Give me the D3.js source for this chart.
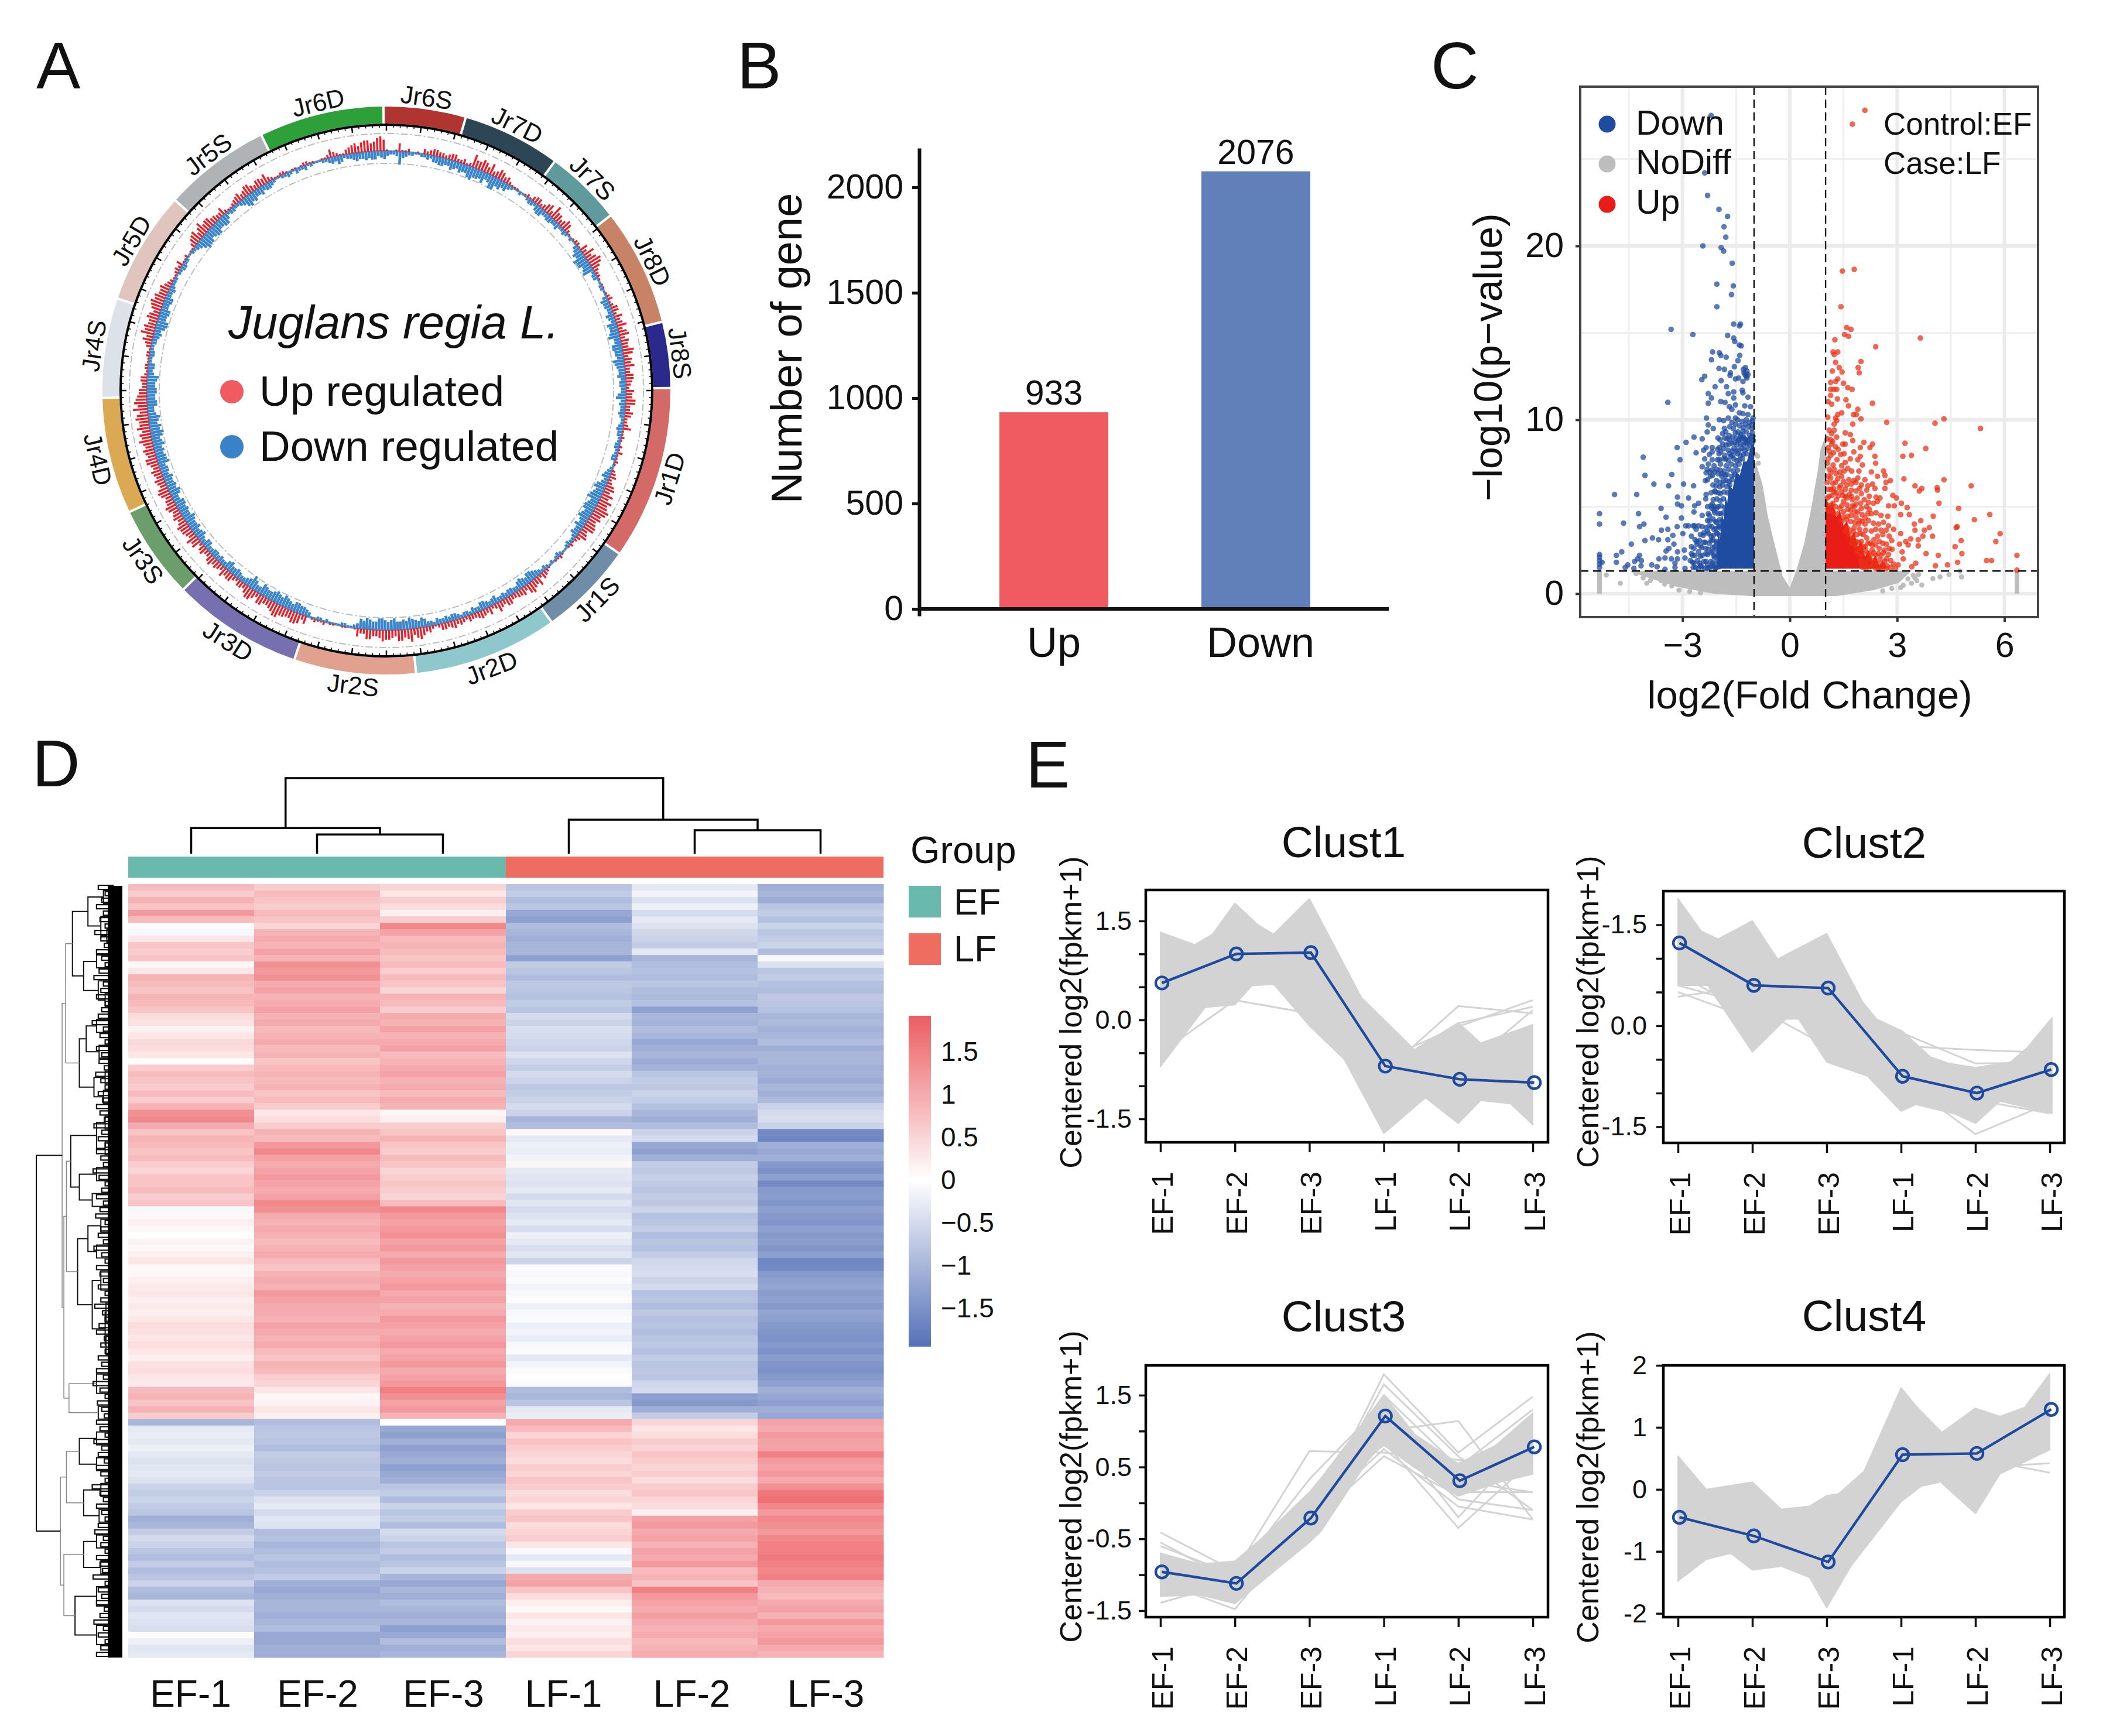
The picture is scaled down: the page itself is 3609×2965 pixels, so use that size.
<!DOCTYPE html>
<html><head><meta charset="utf-8">
<script src="https://cdn.jsdelivr.net/npm/d3@7/dist/d3.min.js"></script>
<style>
html,body{margin:0;padding:0;background:#fff}
svg{display:block}
text{font-family:"Liberation Sans",Arial,sans-serif;fill:#111}
</style></head><body><svg id="c" width="3609" height="2965" viewBox="0 0 3609 2965"></svg>
<script>
// ---------- A: circos ----------
const chromNames=["Jr6S","Jr7D","Jr7S","Jr8D","Jr8S","Jr1D","Jr1S","Jr2D","Jr2S","Jr3D","Jr3S","Jr4D","Jr4S","Jr5D","Jr5S","Jr6D"];
const chromEnds=[16.2,36.3,52,76,89.5,125,144.5,174,198.9,225.6,244.7,268.5,288.9,312,333.9,359.4];
const chromColors=["#b03531","#2c4655","#5f9a9c","#c88266","#2b2a8c","#d46a68","#6f8da6","#8fc8cc","#e2a18e","#7670b0","#6c9e6c","#dba853","#dce2e8","#dfc5bd","#b0b3b6","#2ea03a"];
const trackUp=[1,0,5,1,0,1,3,3,4,3, 3,4,2,1,8,5,6,7,4,5, 4,1,1,0,2,3,4,3,6,8, 5,4,5,1,1,2,5,7,6,7,
3,2,0,1,1,3,2,4,5,4, 3,6,5,4,6,5,6,3,5,3, 5,4,6,3,4,2,5,1,1,2, 3,1,1,2,4,3,6,7,8,7,
8,7,6,7,5,3,1,1,0,2, 1,0,2,4,6,5,6,5,4,3, 5,4,3,5,4,4,3,2,4,5, 3,4,1,4,5,6,8,5,7,5,
6,5,4,6,3,1,0,1,0,1, 2,1,1,5,6,7,5,6,8,5, 4,6,5,7,3,4,3,5,6,4, 4,5,3,4,6,7,5,6,5,6,
4,7,5,6,6,5,4,6,5,7, 6,5,8,7,8,6,7,9,8,6, 5,3,4,1,2,1,2,3,6,8, 7,5,6,6,8,7,5,4,2,1,
3,4,1,0,1,5,7,6,5,6, 4,3,2,1,3,5,4,6,3,5, 6,2,1,2,0,1,1,2,1,0, 1,5,2,1,4,6,6,7,6,9];
const trackUp2=[0,1,1,2,0,0,2,4,3,2, 4,2,3,2,5,7,4,3,6,3, 2,1,0,1,1,4,2,5,3,5, 3,6,2,0,2,1,3,4,8,5,
2,1,1,0,2,1,4,2,3,6, 5,3,4,7,3,4,3,5,4,2, 4,6,3,5,2,3,1,2,0,1, 1,2,0,3,2,5,4,5,6,9,
6,5,7,4,6,2,2,0,1,1, 0,1,3,2,4,7,3,4,3,5, 3,6,2,3,5,3,4,3,3,4, 4,2,2,3,7,4,6,7,4,6,
7,4,6,3,5,0,1,0,1,0, 1,2,0,3,7,5,6,8,6,4, 6,3,7,5,4,2,5,4,3,5, 6,3,5,2,5,4,6,7,4,5,
6,5,4,7,4,6,5,4,7,5, 7,6,6,5,6,8,5,6,7,5, 3,4,2,2,1,2,1,4,4,6, 5,7,4,7,6,5,6,3,1,2,
2,1,2,1,3,6,4,8,6,4, 3,5,1,2,4,3,6,4,5,4, 3,1,2,1,1,0,2,1,0,1, 2,3,1,3,5,4,7,5,8,7];
const trackDown=[3,2,8,3,2,1,2,2,4,5, 4,5,6,5,8,6,7,5,8,6, 5,2,1,1,2,3,4,5,3,4, 3,2,3,1,1,3,6,8,7,6,
2,3,1,2,1,5,4,3,4,6, 5,7,4,6,5,7,5,4,3,4, 3,6,4,3,3,2,4,3,2,3, 2,3,1,3,5,4,7,6,8,6,
7,6,5,6,4,3,2,2,1,3, 1,1,3,3,5,6,5,5,3,4, 4,3,4,4,5,3,2,3,3,4, 4,3,2,3,6,5,7,6,5,6,
6,7,5,7,6,2,1,2,1,1, 1,2,1,4,5,6,5,7,6,6, 5,7,4,8,4,3,5,4,5,3, 3,4,3,5,4,5,6,5,7,5,
5,6,4,7,6,5,4,5,7,6, 6,7,5,8,7,6,5,4,6,5, 6,5,7,3,4,2,3,2,3,5, 6,7,5,6,4,5,3,3,2,1,
2,3,2,1,2,4,8,7,6,7, 5,6,2,3,2,4,7,6,4,3, 4,2,1,2,2,3,2,1,1,1, 2,4,5,2,3,5,4,4,5,4];
const trackDown2=[2,3,4,2,1,2,3,4,5,4, 6,4,5,7,6,5,4,8,5,4, 3,1,2,1,3,2,5,3,4,3, 4,2,2,2,1,4,5,7,5,7,
3,1,2,1,3,4,3,5,3,5, 6,4,6,5,4,6,4,5,4,3, 5,3,3,4,2,3,3,2,3,2, 3,1,2,4,3,6,5,7,5,7,
5,7,4,4,5,2,3,1,2,2, 2,2,2,4,6,4,6,3,4,3, 3,5,3,5,3,4,3,2,4,3, 3,4,3,5,4,6,5,5,7,5,
7,5,6,5,3,1,2,1,1,2, 2,1,3,5,6,4,6,5,7,5, 6,4,6,5,3,4,4,6,3,4, 4,3,5,3,6,4,5,6,5,6,
6,4,6,5,5,6,5,4,6,5, 5,6,7,6,5,7,4,6,5,6, 5,6,4,4,2,3,2,3,4,4, 7,5,6,4,5,3,4,2,2,2,
3,2,1,2,3,6,7,5,7,5, 6,4,3,2,3,6,5,4,5,4, 3,1,2,3,1,2,3,2,1,2, 3,3,4,3,4,4,5,5,3,5];
// ---------- B ----------
const barCats=["Up","Down"];
const barVals=[933,2076];
const barTicks=[0,500,1000,1500,2000];
// ---------- C: volcano ----------
const grayX=[-4.45,-3.86,-3.17,-2.14,-1.1,-1,-1,-.9,-.76,-.62,-.41,-.2,0,.2,.41,.62,.79,.86,1,1,1.31,2.34,3.03,3.24,3.35];
const grayTop=[1.3,1.3,1.3,1.3,1.3,1.3,7.7,7.2,6.25,4.5,2.7,1,.35,1.45,2.95,5.15,7.2,8.3,9.1,1.3,1.3,1.3,1.3,1.3,1.3];
const grayBottom=[1.25,.85,.4,0,-.14,-.14,-.14,-.14,-.14,-.14,-.14,-.14,-.14,-.14,-.14,-.14,-.14,-.14,-.14,-.14,-.14,.2,.6,1,1.2];
const graySparse=[[-5.13,1.07],[-4.74,.6],[-4.3,1.15],[-4.1,.9],[-4,.6],[-3.75,1],[-3.6,.75],[-3.5,.55],[-3.3,.45],[-3.9,.75],[-3.1,.2],[-2.8,.12],[-2.5,.05],[2.6,.15],[2.85,.3],[3.1,.35],[3.45,1.05],[3.55,.75],[3.69,.5],[3.4,.6],[3.17,.48],[3.3,.85],[4,.87],[4.2,.96],[4.45,1.1],[4.76,1.3],[4.8,.96],[3.6,1.1],[3.5,.9],[-.95,8],[-.9,7.9],[-.88,7.5]];
const grayStrips=[-5.32,6.35];
const downSolidX=[-2.05,-2,-1.95,-1.9,-1.85,-1.8,-1.75,-1.7,-1.6,-1.5,-1.4,-1.3,-1.2,-1.1,-1];
const downSolidTop=[2.6,3.4,3.1,4.6,4.2,5.6,5.2,6.3,6,7,6.8,7.6,7.6,8.4,8.7];
const upSolidX=[1,1.1,1.2,1.3,1.4,1.5,1.6,1.7,1.8,1.9,2,2.1,2.2,2.3,2.4,2.5,2.6,2.7];
const upSolidTop=[5.6,5,5.3,4.4,4.8,3.9,4.2,3.2,3.6,2.7,3,2.1,2.5,1.9,2.2,1.6,1.9,1.5];
const downPts=[[-2.2,27.5],[-2.38,24.2],[-2.3,22.9],[-1.98,22.1],[-1.74,21.7],[-1.84,21.1],[-1.79,20.5],[-2.43,20],[-1.92,19.9],[-1.85,19.7],[-1.61,19],[-2.04,17.8],[-1.58,17.7],[-1.63,17.2],[-2.04,16.5],[-3.32,15.2],[-1.57,15.5],[-1.41,15.4],[-1.38,15.5],[-2.71,14.9],[-1.74,14.85],[-1.57,14.7],[-1.54,14.5],[-1.41,14.3],[-1.36,14.25],[-2.16,13.9],[-1.97,13.85],[-1.93,13.7],[-1.78,13.6],[-2.19,13.45],[-1.4,13.7],[-1.45,13.4],[-1.98,12.95],[-1.83,12.9],[-1.55,13.05],[-1.3,12.9],[-1.24,13],[-1.2,12.8],[-1.25,12.6],[-1.17,12.6],[-1.2,12.4],[-1.28,12.7],[-1.22,12.5],[-1.66,12.7],[-1.67,12.55],[-2.38,12.5],[-2.46,12.3],[-1.92,12.25],[-1.52,12.35],[-1.43,12.4],[-1.31,12.2],[-2.09,11.9],[-1.77,11.9],[-1.33,11.7],[-2.28,11.5],[-1.72,11.5],[-1.57,11.6],[-1.31,11.55],[-2.19,11.25],[-1.57,11.25],[-1.17,11.3],[-3.41,11],[-2.28,10.95],[-1.93,11.05],[-1.81,11],[-1.69,10.75],[-1.52,10.85],[-1.26,10.8],[-1.1,10.75],[-1.62,10.6],[-2.33,10.1],[-1.97,10],[-1.72,10.1],[-1.52,10.1],[-1.41,10.4],[-1.31,10.35],[-1.17,10.3],[-1.03,10.1],[-2.28,9.7],[-2.14,9.5],[-1.83,9.5],[-1.52,9.75],[-1.24,9.75],[-1.07,9.7],[-2.31,9.3],[-1.79,9.3],[-1.45,9.3],[-1.31,9.35],[-1.03,9.05],[-1.6,9],[-1.38,9.05],[-1.24,8.85],[-2.68,9],[-2.45,8.9],[-2.9,8.7],[-2.01,8.95],[-3.15,8.4],[-4.1,7.85],[-3.07,7.7],[-2.62,8.1],[-2.41,8.25],[-2.34,8.4],[-2.17,8.4],[-1.97,8.4],[-1.93,8.15],[-2.17,8.15],[-2.38,7.75],[-2.17,7.7],[-1.97,7.7],[-1.79,7.75],[-1.65,7.9],[-1.7,8.6],[-1.55,8.7],[-1.45,8.8],[-1.35,8.9],[-1.25,8.7],[-1.15,8.85],[-1.6,8.2],[-1.5,8.2],[-1.75,8.9],[-1.3,9],[-2.45,7.3],[-2.31,7.15],[-2.24,7],[-2.34,6.95],[-2.16,6.8],[-2.1,7],[-2.05,6.5],[-2,6.9],[-1.95,6.4],[-2.15,6.25],[-2.1,5.9],[-2,5.8],[-1.95,7.1],[-1.9,6.9],[-1.85,6.5],[-1.8,6.8],[-4.05,6.8],[-3.3,6.85],[-3.8,6.3],[-3.39,6.2],[-2.97,6.3],[-2.69,6.2],[-4.28,5.7],[-3.14,5.55],[-2.83,5.5],[-2.34,5.7],[-2.35,5.45],[-3.6,4.9],[-3.14,5.15],[-3.03,5.05],[-2.66,5.05],[-2.55,5.2],[-2.17,5.15],[-2.1,5],[-4.23,4.6],[-3.46,4.4],[-3.03,4.35],[-2.68,4.7],[-2.45,4.5],[-4.08,4],[-4.2,3.85],[-3.15,3.85],[-3.59,3.65],[-3.41,3.7],[-2.91,3.9],[-2.83,3.9],[-2.66,3.9],[-2.99,3.45],[-3.27,3.35],[-3.41,3.1],[-3.84,3.2],[-3.67,3.1],[-4.05,3.05],[-4.43,2.85],[-3.24,2.85],[-3.38,2.6],[-3.46,2.45],[-3.14,2.4],[-2.95,2.5],[-3.66,2],[-3.49,2.05],[-4.26,2],[-4.34,1.85],[-3.31,2],[-3.14,2],[-2.93,2.05],[-3.21,1.75],[-3.86,1.65],[-3.71,1.55],[-4.16,1.6],[-4.36,1.45],[-3.49,1.4],[-3.21,1.5],[-2.93,1.45],[-4.53,1.65],[-2.7,3.9],[-2.62,3.7],[-2.55,3.9],[-2.45,3.85],[-2.4,3.5],[-2.3,3.6],[-2.2,3.3],[-2.75,3.3],[-2.65,3.1],[-2.6,2.85],[-2.75,2.7],[-2.5,2.75],[-2.4,2.95],[-2.35,2.6],[-2.25,2.9],[-2.15,3.1],[-2.1,2.7],[-2.75,2.3],[-2.65,2.2],[-2.55,2.4],[-2.45,2.2],[-2.35,2.3],[-2.2,2.35],[-2.1,2.1],[-2.78,1.9],[-2.68,1.75],[-2.58,1.9],[-2.5,1.6],[-2.4,1.85],[-2.3,1.65],[-2.2,1.85],[-2.12,1.6],[-2.7,1.5],[-2.55,1.45],[-2.38,1.45],[-2.25,1.5],[-2.08,1.45],[-2.05,4.9],[-2,4.6],[-2.12,4.8],[-2.18,4.9],[-2.3,4.2],[-2.25,4.5],[-2.15,4.3],[-2.05,4.1],[-1.98,3.9],[-2.15,2.4],[-2.05,2.9],[-2.05,3.5],[-2.12,3.7],[-2.25,3.9],[-5.32,4.6],[-5.32,4],[-5.32,1.5],[-5.32,1.7],[-5.32,1.9],[-5.32,2.1],[-5.32,2.25],[-5.25,1.8],[-4.65,4.05],[-4.9,5.7],[-4.85,2.2],[-4.85,1.8],[-4.7,2.4],[-4.6,1.5],[-4.2,2.2],[-4.15,1.9]];
const downDense=[[-1.85,9.95],[-1.62,9.85],[-1.46,10],[-1.34,9.9],[-1.22,10],[-1.12,9.85],[-1.04,9.95],[-1.68,9.6],[-1.58,9.5],[-1.4,9.65],[-1.3,9.55],[-1.16,9.6],[-1.06,9.5],[-1.88,9.2],[-1.7,9.1],[-1.52,9.25],[-1.37,9.15],[-1.22,9.3],[-1.12,9.1],[-1.05,9.25],[-1.95,8.85],[-1.82,8.95],[-1.68,8.85],[-1.5,8.95],[-1.42,8.85],[-1.28,8.95],[-1.18,8.8],[-1.1,8.95],[-1.02,8.8],[-1.88,8.6],[-1.78,8.55],[-1.62,8.65],[-1.48,8.55],[-1.38,8.6],[-1.3,8.55],[-1.2,8.65],[-1.12,8.55],[-1.06,8.65],[-2.02,8.3],[-1.85,8.35],[-1.72,8.25],[-1.56,8.35],[-1.42,8.25],[-1.34,8.35],[-1.26,8.25],[-1.18,8.35],[-2.25,8],[-1.98,8.05],[-1.82,7.95],[-1.68,8.05],[-1.6,7.95],[-1.46,8.05],[-1.38,7.95],[-1.3,8],[-1.22,8.05],[-2.02,7.7],[-1.86,7.75],[-1.72,7.65],[-1.56,7.75],[-1.48,7.65],[-1.4,7.7],[-1.32,7.75],[-2.28,7.45],[-2.12,7.35],[-1.94,7.45],[-1.78,7.35],[-1.64,7.45],[-1.52,7.35],[-1.42,7.45],[-2.18,7.1],[-2.04,7.15],[-1.84,7.05],[-1.7,7.15],[-1.58,7.05],[-1.46,7.1],[-2.22,6.75],[-1.9,6.75],[-1.76,6.85],[-1.62,6.75],[-1.54,6.85],[-2.36,6.5],[-2.3,6.55],[-1.78,6.5],[-1.7,6.45],[-1.62,6.55],[-2.06,6.2],[-1.96,6.15],[-1.88,6.25],[-1.76,6.15],[-1.68,6.25],[-2.2,5.8],[-2.08,5.85],[-1.94,5.75],[-1.84,5.85],[-1.74,5.8],[-2.14,5.4],[-2.04,5.45],[-1.95,5.35],[-1.86,5.45],[-2.3,5],[-2.2,5.05],[-2,5],[-1.92,5.05],[-1.82,4.95],[-2.28,4.6],[-2.1,4.65],[-1.94,4.6],[-1.86,4.65],[-2.24,4.2],[-2.08,4.15],[-1.96,4.25],[-1.9,4.15],[-2.34,3.8],[-2.18,3.85],[-2.06,3.75],[-1.98,3.85],[-1.92,3.75],[-2.5,3.4],[-2.42,3.35],[-2.28,3.45],[-2.14,3.35],[-2.02,3.45],[-1.96,3.35],[-2.6,3],[-2.52,3.05],[-2.36,2.95],[-2.2,3.05],[-2.06,3],[-2.68,2.6],[-2.46,2.65],[-2.28,2.55],[-2.16,2.65],[-2.04,2.55],[-2.72,2.2],[-2.5,2.15],[-2.3,2.25],[-2.12,2.15],[-2.02,2.25],[-2.72,1.8],[-2.52,1.75],[-2.34,1.85],[-2.16,1.75],[-2.04,1.85],[-2.64,1.5],[-2.46,1.55],[-2.3,1.45],[-2.18,1.55],[-2.06,1.5],[-1.98,1.55]];
const upPts=[[2.1,27.8],[1.75,27],[1.8,18.65],[1.47,18.55],[1.43,16.5],[1.59,15.3],[1.71,15.2],[1.53,14.9],[1.64,14.8],[3.65,14.7],[1.26,14.6],[2.4,14.2],[1.21,13.9],[1.34,13.9],[1.24,13.75],[1.99,13.35],[1.28,13.3],[1.91,13],[1.38,13],[1.19,12.8],[1.46,12.75],[1.94,12.7],[1.34,12.35],[1.14,12.15],[1.28,12.2],[1.5,12.1],[1.62,11.85],[1.74,11.75],[1.14,11.75],[1.23,11.75],[1.31,11.75],[1.14,11.4],[1.33,11.2],[1.57,11.15],[1.07,11.05],[1.17,10.9],[1.64,10.8],[2.31,10.95],[1.9,10.6],[1.45,10.4],[1.34,10.3],[1.28,10.1],[1.78,10.3],[1.86,10.3],[1.99,10.05],[1.06,10.15],[1.31,9.95],[1.24,9.75],[1.76,9.75],[2.71,9.85],[4.06,9.8],[4.31,10.05],[5.33,9.5],[1.1,9.4],[1.24,9.4],[1.17,9.2],[1.55,9.25],[1.69,9.15],[1.14,8.85],[1.31,9],[1.76,8.8],[1.48,8.6],[1.55,8.6],[2.07,8.7],[2.31,8.6],[3.22,8.65],[1.17,8.6],[1.28,8.45],[1.07,8.4],[2.24,8.4],[1.97,8.4],[3.8,8.35],[1.52,8.05],[1.79,8.15],[1.14,7.95],[1.07,7.75],[2.38,7.9],[3.16,7.9],[3.4,7.95],[1.97,7.9],[1.69,7.75],[1.9,7.7],[1.55,7.55],[1.21,7.4],[2.03,7.4],[2.4,7.5],[1.45,7.35],[1.1,7.15],[1.24,7.15],[1.52,7.05],[2.28,7],[1.93,7.05],[2.62,7.05],[1.07,6.75],[1.14,6.65],[1.34,6.6],[1.45,6.75],[1.79,6.5],[1.9,6.65],[2.1,6.55],[2.45,6.75],[2.66,6.8],[3.19,6.6],[4.31,6.55],[2.69,6.4],[2.81,6.5],[1.72,6.3],[1.59,6.25],[2.31,6.3],[5.07,6.2],[3.5,6.2],[3.69,6.05],[3.62,5.9],[4.12,6.1],[4.13,5.95],[2.66,6.05],[2.38,6.05],[1.38,6.1],[1.24,5.85],[1.45,5.85],[2,5.75],[1.66,5.7],[2.88,5.65],[2.98,5.5],[2.41,5.55],[2.52,5.5],[2.34,5.2],[2.45,5.3],[3.12,5.2],[2.76,5.05],[2.92,5.05],[3.28,4.95],[4.17,5.2],[4.72,4.9],[5.59,4.55],[5.16,4.25],[4.01,4.45],[3.34,4.55],[3.1,4.55],[2.74,4.45],[2.41,4.65],[2.28,4.6],[2.1,4.35],[3.66,4.2],[3.48,4],[3.5,3.65],[3.9,3.8],[3.76,3.65],[4.65,3.8],[4.68,3.85],[5.88,3.45],[5.76,3],[4.79,3.05],[4.62,2.7],[4.81,2.3],[3.99,3.3],[3.72,3.3],[3.59,3.1],[3.38,3.15],[3.24,3],[3.1,3.45],[3.59,2.75],[3.31,2.8],[3.07,2.85],[3.81,2.3],[4.15,2.2],[5.5,1.9],[5.64,1.9],[4.69,1.8],[4.41,1.65],[4.07,1.6],[3.52,1.75],[3.41,1.55],[3.17,2],[3.03,1.65],[3.14,2.4],[2.86,2.55],[2.76,2.25],[2.69,3.65],[2.55,3.65],[2.9,3.7],[2.62,4.1],[2.34,4.05],[2.76,3.9],[1.95,3.7],[2.05,3.4],[2.15,3.2],[2,3],[2.1,2.7],[2.25,2.9],[2.35,3.1],[2.45,3.3],[2.4,2.8],[2.5,2.6],[2.6,2.9],[2.65,2.5],[2.3,2.5],[2.2,2.3],[2.05,2.3],[2.4,2.2],[2.55,2.2],[2.7,2],[2.3,1.9],[2.15,1.9],[2,1.8],[2.45,1.7],[2.6,1.7],[2.72,1.6],[2.25,1.55],[2.05,1.5],[2.4,1.45],[2.55,1.45],[2.7,1.45],[2.1,4],[1.95,4.2],[1.85,4.4],[1.7,4.8],[1.6,5.1],[1.5,5.3],[1.4,4.9],[1.3,5.4],[1.2,5.2],[1.1,5.6],[1.8,5],[1.9,4.7],[2,4.9],[1.75,5.4],[1.15,6],[1.3,5.8],[1.55,5.6],[1.85,5.9],[1.65,3.4],[1.75,3.2],[1.85,3],[1.95,2.6],[1.6,3.8],[1.5,4.4],[1.8,3.8],[6.35,2.2],[6.35,1.35]];
const upDense=[[1.05,8.9],[1.2,8.75],[1.1,8.2],[1.22,8.1],[1.35,8.3],[1.42,8],[1.05,7.5],[1.32,7.7],[1.15,6.95],[1.3,6.9],[1.4,7],[1.62,7.2],[1.73,7.05],[1.05,6.4],[1.2,6.35],[1.28,6.4],[1.5,6.45],[1.65,6.55],[1.85,6.4],[2,6.25],[2.18,6.2],[1.08,6],[1.22,6.05],[1.42,6.2],[1.55,6],[1.72,5.95],[1.95,6.05],[2.15,5.95],[2.22,5.6],[1.05,5.5],[1.18,5.65],[1.35,5.6],[1.48,5.65],[1.6,5.5],[1.72,5.6],[1.88,5.5],[2.08,5.4],[2.2,5.25],[1.05,5.1],[1.15,5.05],[1.28,5],[1.45,5.05],[1.62,4.85],[1.75,5.05],[1.85,5.15],[1.98,5.2],[2.14,5],[2.22,4.85],[1.08,4.75],[1.22,4.7],[1.35,4.6],[1.5,4.7],[1.62,4.45],[1.72,4.5],[1.82,4.7],[2.02,4.55],[2.18,4.6],[2.55,4.5],[1.45,4.15],[1.58,4.25],[1.7,4.15],[1.82,4.1],[1.92,4],[2.02,4.15],[2.2,4.2],[2.48,4],[1.55,3.6],[1.68,3.65],[1.78,3.55],[1.88,3.4],[1.98,3.45],[2.12,3.65],[2.28,3.6],[2.4,3.7],[2.6,3.4],[2.78,3.3],[1.72,2.9],[1.82,2.75],[1.92,2.95],[2.05,2.7],[2.18,2.9],[2.3,2.8],[2.5,3],[2.7,2.85],[2.85,3.05],[1.88,2.4],[1.98,2.2],[2.12,2.5],[2.25,2.2],[2.35,2.35],[2.48,2.3],[2.62,2.35],[2.78,2.6],[1.98,1.95],[2.1,1.75],[2.22,2],[2.38,1.8],[2.52,1.95],[2.65,1.85],[2.82,1.9],[2.9,1.7],[2.02,1.6],[2.15,1.5],[2.3,1.65],[2.48,1.5],[2.62,1.55],[2.82,1.5],[2.95,1.45]];
const legendNames=["Down","NoDiff","Up"];
const legendColors=["#1f4ba0","#bdbdbd","#ea1c18"];
// ---------- D: heatmap ----------
const samples=["EF-1","EF-2","EF-3","LF-1","LF-2","LF-3"];
const heatEF1=[.8,.6,.9,.7,1.2,.8,.05,-.1,.3,.7, .6,.7,.1,.3,.9,.8,.7,.9,.8,.7, .4,.35,.15,.3,.45,.4,.3,.05,.6,.8, .7,.6,.8,.6,.9,1.3,1.4,1,.7,.9, .8,.7,.8,.6,.5,.7,.7,.8,.6,.7, -.1,.1,.2,.1,0,.15,.1,.2,.3,.1, .1,.2,.25,.3,.2,.25,.2,.3,.4,.35, .3,.4,.3,.2,.35,.4,.3,.25,.8,.9, .7,.9,.6,-1,-.3,-.25,-.3,-.2,-.3,-.4, -.35,-.3,-.4,-.6,-.7,-.6,-.7,-.8,-1.1,-1, -.7,-.5,-.6,-.8,-.9,-.7,-.9,-.8,-.6,-.9, -1,-.4,-.5,-.35,-.4,-.45,.05,-.2,-.35,-.3];
const heatEF2=[.6,.8,.7,.6,.8,.7,.5,.9,1,.9, 1.1,.9,1.3,1.2,1.3,1,1.1,.9,1,1.1, .9,1,.8,.9,1,.8,.9,.7,.8,.9, .8,.9,.7,.8,.6,.3,.4,.6,.9,.8, 1.2,1.4,1.1,1,1.1,1.2,1.1,1,1.1,1.4, 1.3,1,.9,1,.9,.8,.9,1,.8,.7, .9,1,.9,1.2,1.1,1,1,.9,1.1,1, .9,1,.8,.7,.9,.8,.6,.5,.3,.1, .15,.3,.2,-.9,-.8,-.75,-.8,-.9,-.7,-.75, -.8,-.7,-.8,-.8,-.6,-.4,-.3,-.5,-.35,-.4, -.9,-.85,-1,-.9,-.8,-.9,-.85,-.7,-1.1,-1.2, -1.1,-1,-1,-1.1,-1,-.9,-1.2,-1.2,-1.1,-1.1];
const heatEF3=[.5,.3,.6,.4,.2,.6,1.4,1.1,.8,.9, .8,.7,.8,.6,.8,.7,.5,.9,.8,.6, 1,.9,1.1,.9,1,1.1,.8,.9,1,1.1, .9,1,.8,1,.9,.1,.2,.6,.7,.9, .7,.6,.8,.7,.5,.6,.7,.6,.5,.8, 1.4,1.2,1.1,1.2,1.3,1.1,1.2,1,1.2,1.1, 1,1.1,1.2,1,1.1,.9,1,1.2,1.1,1, 1.1,1.2,1,1.1,1.2,1,1.1,1.2,1.5,1.3, 1.1,1.2,.9,0,-1.2,-1.3,-1.1,-1.3,-1.2,-1.1, -1.3,-1.2,-1.1,-.8,-.7,-.9,-.6,-.8,-.7,-.9, -.5,-.6,-.8,-.7,-.9,-.8,-.6,-1,-1.2,-1, -1.1,-.9,-1,-1.1,-1,-1.3,-1.2,-.9,-1.1,-1];
const heatLF1=[-.8,-.7,-.9,-.8,-1.2,-1.3,-.9,-1,-1.1,-1, -1,-1.3,-.7,-.8,-.9,-.75,-.8,-.85,-.7,-.8, -.5,-.6,-.45,-.5,-.55,-.6,-.4,-.55,-.7,-.5, -.6,-.75,-.7,-.6,-.5,-.6,-1,-.9,.1,-.3, -.2,-.25,-.15,.1,-.3,-.35,-.4,-.3,-.5,-.35, -.5,-.4,-.3,-.45,-.2,-.3,-.45,-.35,-.6,-.05, -.1,-.05,-.15,-.1,.05,-.2,-.1,-.05,-.2,-.15, -.25,-.1,-.05,-.3,-.15,-.05,0,-.05,-.9,-1, -.8,-.3,-.25,1,.8,.5,.7,.6,.5,.4, .6,.5,.7,.6,.4,.5,.3,.6,.7,.4, .5,.6,.3,-.1,-.3,-.1,-.4,1,1.1,.7, .4,.2,.1,.3,.15,.25,.2,.4,.3,.5];
const heatLF2=[-.3,-.15,-.4,-.2,-.5,-.3,-.4,-.55,-.6,-.7, -.3,-1,-.9,-.85,-.9,-.8,-.9,-.95,-.85,-1.3, -1,-1.05,-.9,-1,-1.2,-1.1,-1,-1.15,-1.05,-.8, -.7,-.75,-.6,-.7,-.85,-1,-1.1,-.9,-.6,-.5, -1.2,-1.3,-1.1,-.7,-.75,-.65,-.7,-.8,-.7,-.75, -.6,-.85,-.8,-.7,-.9,-.8,-.85,-.7,-.55,-.5, -.45,-.6,-.5,-.85,-.8,-.9,-.75,-.85,-.8,-.9, -.8,-.75,-.85,-.7,-.8,-.75,-.8,-.55,-.5,-1.3, -1.4,-1.1,-.7,.5,.3,.4,.6,.5,.7,.6, .5,.6,.4,.6,.7,.5,.4,.2,1.1,1.2, 1,1.1,.9,1.1,1,1.2,.8,.9,.7,1.5, 1.2,1.1,1,1.15,1,.9,1,.8,.9,1];
const heatLF3=[-1.1,-1,-1.15,-.8,-.7,-.85,-.6,-.8,-.7,-.6, -.9,-.1,-.4,-.8,-.7,-.85,-.9,-.75,-.8,-.85, -1,-.95,-1.05,-1,-.9,-1.1,-1,-1,-1.1,-1.05, -1.15,-1,-1.1,-.95,-.6,-.5,-.45,-.6,-1.6,-1.65, -1.1,-1.2,-1.1,-1.4,-1.5,-1.3,-1.6,-1.4,-1.35,-1.45, -1.3,-1.4,-1.45,-1.3,-1.4,-1.35,-1.45,-1.3,-1.65,-1.6, -1.4,-1.3,-1.25,-1.35,-1.3,-1.4,-1.25,-1.3,-1.4,-1.45, -1.5,-1.4,-1.5,-1.35,-1.45,-1.5,-1.4,-1.3,-1.1,-1.2, -1.3,-1.1,-1.2,1.1,1,1.2,1.1,1.1,1.5,1.2, 1.1,1.2,1,1.3,1.6,1.7,1.4,1.2,1.4,1.3, 1.2,1.4,1.5,1.5,1.6,1.5,1.4,1.5,1,.9, .8,1,1.1,.9,1.2,1,1.1,1.2,1,.9];
const colTree=[1,[.34,0,[.254,1,2]],[.45,3,[.31,4,5]]];
const treeA=[.66,[.58,[.4,[.22,0,2],[.25,4,[.18,6,8]]],[.45,[.3,10,12],[.28,14,[.2,16,18]]]],[.5,[.42,[.3,20,22],[.27,24,26]],[.33,[.2,28,30],[.22,31,33]]]];
const treeB=[.65,[.6,[.3,[.2,35,37],[.2,39,41]],[.5,[.3,43,45],[.35,47,49]]],[.52,[.4,[.25,51,53],[.3,55,57]],[.35,[.25,59,62],[.2,[.19,64,67],[.19,69,72]]]]];
const treeC=[.62,[.3,75,78],[.28,80,82]];
const treeD=[.72,[.65,[.5,[.3,84,86],[.3,88,90]],[.45,[.25,92,94],[.27,96,98]]],[.68,[.45,[.3,100,102],[.25,104,106]],[.55,[.3,108,111],[.3,114,117]]]];
const rowTree=[1,[.7,treeA,[.68,treeB,treeC]],treeD];
const leafHeights=[.28,.2,.24,.3,.22,.26,.2,.32,.25,.21,.3,.24,.2,.27,.33,.22,.25,.3,.2,.24,.28,.35,.22,.26,.2,.3,.24,.27,.21,.31,.25,.2,.28,.23,.3,.26,.21,.33,.24,.28,.2,.3,.25,.22,.34,.27,.2,.24,.3,.22,.26,.31,.2,.25,.28,.22,.33,.24,.2,.3,.26,.22,.28,.2,.25,.32,.23,.2,.27,.3,.21,.25,.2,.28,.24,.3,.22,.34,.26,.2,.29,.24,.21,.3,.26,.2,.33,.24,.28,.21,.3,.25,.2,.35,.26,.22,.3,.24,.2,.28,.32,.22,.25,.2,.3,.26,.23,.34,.2,.28,.24,.3,.21,.26,.33,.22,.28,.2,.25,.3];
const groupNames=["EF","LF"];
const groupColors=["#69b9ac","#ee6c60"];
const heatTicks=[1.5,1,.5,0,-.5,-1,-1.5];
const heatTickText=["1.5","1","0.5","0","\u22120.5","\u22121","\u22121.5"];
// ---------- E: clusters ----------
const mean1=[.56,1,1.02,-.7,-.9,-.95];
const upper1=[[0,1.33],[.46,1.14],[.7,1.3],[1,1.77],[1.3,1.45],[1.52,1.3],[2,1.84],[2.7,.34],[3.41,-.45],[4,-.04],[4.3,-.35],[5,-.07]];
const lower1=[[0,-.71],[.6,.19],[1,.23],[1.23,.52],[1.52,.54],[2,-.09],[2.47,-.6],[3,-1.72],[3.56,-1.18],[4,-1.57],[4.3,-1.22],[4.7,-1.27],[5,-1.59]];
const extra1=[[.4,.6,.7,-.8,.21,.1],[.5,.7,.6,-.6,-.1,.3],[.3,.9,.8,-.9,-.05,.2],[-.5,.3,.1,-1.2,-.8,.15]];
const mean2=[1.23,.6,.56,-.75,-1,-.65];
const upper2=[[0,1.89],[.31,1.41],[.54,1.29],[1,1.56],[1.34,.99],[2,1.37],[2.48,.36],[2.67,.1],[3.02,-.08],[3.39,-.46],[3.65,-.56],[4,-.62],[4.47,-.54],[4.7,-.32],[5.03,.12]];
const lower2=[[0,.6],[.4,.6],[1,-.39],[1.45,.1],[1.62,.1],[2,-.54],[2.55,-.75],[3,-1.27],[3.2,-1.17],[3.72,-1.31],[4,-1.45],[4.33,-1.12],[5.03,-1.3]];
const extra2=[[.43,.6,.5,-.3,-.36,-.4],[.5,.1,.3,-.1,-.56,-.55],[.75,.2,.1,-.8,-1.61,-1.15],[.6,.3,-.3,-.9,-1.1,-1.3]];
const mean3=[-.96,-1.12,-.21,1.21,.31,.78];
const upper3=[[0,-.7],[.53,-.85],[1,-.81],[1.34,-.51],[2,.15],[2.16,.35],[3,1.5],[3.42,.95],[4,.55],[4.5,.8],[5,1.25]];
const lower3=[[0,-1.3],[.53,-1.28],[1,-1.4],[2,-.55],[2.16,-.39],[2.83,.66],[3,.8],[3.4,.5],[4,.1],[4.4,.25],[5,.4]];
const extra3=[[-.41,-.95,.72,.7,.6,.5],[-.6,-1,.33,1.4,.3,.15],[-1.1,-1.2,-.2,1,1.14,-.23],[-1.39,-1.1,-.3,.65,.1,.45],[-.55,-1.1,-.3,.9,.15,.15],[-1,-1.2,-.35,.85,-.35,.6],[-1,-1.1,-.3,1.79,.7,1.48],[-.95,-1,-.25,1.65,.65,-.1],[-1,-1,-.2,.75,-.05,-.23],[-1.1,-1.48,-.2,.9,.05,-.1],[-.8,-1,.1,1.5,.5,1.3],[-.7,-1.1,-.1,1.1,-.2,.9]];
const mean4=[-.45,-.75,-1.17,.56,.58,1.29];
const upper4=[[0,.54],[.38,0],[1,.12],[1.39,-.32],[1.77,-.27],[2,-.1],[2.16,-.07],[2.5,.29],[3,1.64],[3.22,1.32],[3.55,.92],[4,1.31],[4.33,1.18],[4.66,1.32],[5,1.87]];
const lower4=[[0,-1.48],[.38,-1.13],[.71,-1.03],[1,-1.3],[1.39,-1.24],[1.77,-1.42],[2,-1.91],[2.33,-1.23],[3,-.2],[3.27,.05],[3.53,.12],[4,-.39],[4.33,.25],[5,.64]];
const extra4=[[0,-.6,-.9,.5,.35,.42],[.2,-.7,-1,.3,.5,.27]];
const axisY1=[1.5,1,.5,0,-.5,-1,-1.5], axisY1Text={"1.5":"1.5","0":"0.0","-1.5":"-1.5"};
const axisY2=axisY1, axisY2Text={"1.5":"-1.5","0":"0.0","-1.5":"-1.5"};
const axisY3=[1.5,1,.5,0,-.5,-1,-1.5], axisY3Text={"1.5":"1.5","0.5":"0.5","-0.5":"-0.5","-1.5":"-1.5"};
const axisY4=[2,1,0,-1,-2], axisY4Text={"2":"2","1":"1","0":"0","-1":"-1","-2":"-2"};

const svg=d3.select("#c");
svg.append("rect").attr("width",3609).attr("height",2965).attr("fill","#fff");
const label=(x,y,t,size,opts={})=>{const e=svg.append("text").attr("x",x).attr("y",y).attr("font-size",size).text(t);
 if(opts.anchor)e.attr("text-anchor",opts.anchor); if(opts.rot!=null)e.attr("transform",`rotate(${opts.rot} ${x} ${y})`); if(opts.italic)e.attr("font-style","italic"); return e;};
[["A",62,151],["B",1259,151],["C",2444,151],["D",55,1343],["E",1752,1345]].forEach(d=>label(d[1],d[2],d[0],113));

// ===== Panel A =====
(function(){
 const cx=660,cy=667,g=svg.append("g").attr("transform",`translate(${cx},${cy})`);
 const rad=d=>d*Math.PI/180;
 const sect=chromNames.map((n,i)=>({n,a0:i?chromEnds[i-1]:-.6,a1:chromEnds[i],c:chromColors[i]}));
 const ring=d3.arc().innerRadius(456).outerRadius(485).padAngle(rad(.35));
 g.selectAll("path.s").data(sect).join("path").attr("d",d=>ring({startAngle:rad(d.a0),endAngle:rad(d.a1)})).attr("fill",d=>d.c);
 sect.forEach(d=>{const m=(d.a0+d.a1)/2,[x,y]=d3.pointRadial(rad(m),506);
  const rot=(m>90&&m<270)?m-180:(m>=270?m-360:m);
  g.append("text").attr("transform",`translate(${x},${y}) rotate(${rot})`).attr("text-anchor","middle").attr("dy",".36em").attr("font-size",43).text(d.n);});
 g.append("circle").attr("r",454).attr("fill","none").attr("stroke","#000").attr("stroke-width",4);
 const tick=(a,l,w)=>{const p0=d3.pointRadial(rad(a),453),p1=d3.pointRadial(rad(a),453-l);
  g.append("line").attr("x1",p0[0]).attr("y1",p0[1]).attr("x2",p1[0]).attr("y2",p1[1]).attr("stroke","#000").attr("stroke-width",w);};
 d3.range(0,360,1.5).forEach(a=>tick(a,4,1.5));
 d3.range(0,360,7.5).forEach(a=>tick(a,9,2.5));
 [439,388].forEach(r=>g.append("circle").attr("r",r).attr("fill","none").attr("stroke","#bdbdbd").attr("stroke-width",2).attr("stroke-dasharray","12 4 3 4"));
 g.append("circle").attr("r",409).attr("fill","none").attr("stroke","#bbb").attr("stroke-width",4);
 const r0=409,k=d3.scaleLinear().domain([0,10]).range([0,28]);
 const arc=d3.arc();
 const bars=(vals,off,wid,col,out)=>vals.forEach((v,i)=>{if(!v)return;const a=rad(i*1.5+off);
  g.append("path").attr("d",arc(out?{innerRadius:r0,outerRadius:r0+k(v),startAngle:a-rad(wid),endAngle:a+rad(wid)}:{innerRadius:r0-k(v),outerRadius:r0+1,startAngle:a-rad(wid),endAngle:a+rad(wid)})).attr("fill",col);});
 bars(trackDown,.3,.33,"#3a86cc",false);
 bars(trackDown2,1.05,.33,"#3a86cc",false);
 bars(trackUp,.1,.24,"#e8202a",true);
 bars(trackUp2,.85,.24,"#e8202a",true);
 label(390,578,"Juglans regia L.",80,{italic:true});
 svg.append("circle").attr("cx",396).attr("cy",669).attr("r",20).attr("fill","#ef5b60");
 svg.append("circle").attr("cx",396).attr("cy",763).attr("r",20).attr("fill","#3a82c8");
 label(443,693,"Up regulated",73); label(443,787,"Down regulated",73);
})();

// ===== Panel B =====
(function(){
 const y=d3.scaleLinear().domain([-33.3,2186]).range([1052,253]);
 const x=d3.scaleBand().domain(barCats).range([1627.5,2317.5]).paddingInner(.461).paddingOuter(.2305);
 const barCol=["#ef5b60","#6180b9"];
 svg.selectAll("rect.b").data(barCats).join("rect").attr("x",d=>x(d)).attr("width",x.bandwidth())
  .attr("y",(d,i)=>y(barVals[i])).attr("height",(d,i)=>y(0)-y(barVals[i])).attr("fill",(d,i)=>barCol[i]);
 const ax=svg.append("g").attr("transform","translate(1570,0)").call(d3.axisLeft(y).tickValues(barTicks).tickSize(12).tickSizeOuter(0).tickPadding(15).tickFormat(d3.format("d")));
 ax.selectAll("path").attr("stroke","#111").attr("stroke-width",6);
 ax.selectAll("line").attr("stroke","#111").attr("stroke-width",5);
 ax.selectAll("text").attr("font-size",59);
 svg.append("line").attr("x1",1570).attr("x2",2372).attr("y1",y(0)).attr("y2",y(0)).attr("stroke","#111").attr("stroke-width",6);
 barCats.forEach((c,i)=>{label(x(c)+x.bandwidth()/2+(i?8:0),1122,c,72,{anchor:"middle"});
  label(x(c)+x.bandwidth()/2,y(barVals[i])-13,barVals[i],59,{anchor:"middle"});});
 label(1369,595,"Number of gene",74,{anchor:"middle",rot:-90});
})();

// ===== Panel C =====
(function(){
 const X0=2699,X1=3481,Y0=148,Y1=1054;
 const x=d3.scaleLinear().domain([-5.86,6.94]).range([X0,X1]);
 const y=d3.scaleLinear().domain([-1.35,29.16]).range([Y1,Y0]);
 const g=svg.append("g");
 [-4.5,-1.5,1.5,4.5].forEach(v=>g.append("line").attr("x1",x(v)).attr("x2",x(v)).attr("y1",Y0).attr("y2",Y1).attr("stroke","#efefef").attr("stroke-width",3));
 [5,15,25].forEach(v=>g.append("line").attr("y1",y(v)).attr("y2",y(v)).attr("x1",X0).attr("x2",X1).attr("stroke","#efefef").attr("stroke-width",3));
 [-3,0,3,6].forEach(v=>g.append("line").attr("x1",x(v)).attr("x2",x(v)).attr("y1",Y0).attr("y2",Y1).attr("stroke","#ebebeb").attr("stroke-width",6));
 [0,10,20].forEach(v=>g.append("line").attr("y1",y(v)).attr("y2",y(v)).attr("x1",X0).attr("x2",X1).attr("stroke","#ebebeb").attr("stroke-width",6));
 const area=d3.area().x(d=>x(d[0])).y0(d=>y(d[1])).y1(d=>y(d[2]));
 g.append("path").attr("d",area(grayX.map((v,i)=>[v,grayBottom[i],grayTop[i]]))).attr("fill","#bdbdbd");
 grayStrips.forEach(v=>g.append("line").attr("x1",x(v)).attr("x2",x(v)).attr("y1",y(0)).attr("y2",y(1.3)).attr("stroke","#bdbdbd").attr("stroke-width",8));
 g.selectAll("circle.g").data(graySparse).join("circle").attr("cx",d=>x(d[0])).attr("cy",d=>y(d[1])).attr("r",4.4).attr("fill","#bdbdbd");
 g.append("path").attr("d",area(downSolidX.map((v,i)=>[v,1.44,downSolidTop[i]]))).attr("fill","#1f4ba0");
 g.append("g").selectAll("circle").data(downPts.concat(downDense)).join("circle").attr("cx",d=>x(d[0])).attr("cy",d=>y(d[1])).attr("r",4.8).attr("fill","#1f4ba0").attr("opacity",.74);
 g.append("path").attr("d",area(upSolidX.map((v,i)=>[v,1.44,upSolidTop[i]]))).attr("fill","#ea1c18");
 g.append("g").selectAll("circle").data(upPts.concat(upDense)).join("circle").attr("cx",d=>x(d[0])).attr("cy",d=>y(d[1])).attr("r",4.8).attr("fill","#ea3015").attr("opacity",.74);
 const dash=(a,b,c,d)=>g.append("line").attr("x1",a).attr("y1",b).attr("x2",c).attr("y2",d).attr("stroke","#111").attr("stroke-width",2.4).attr("stroke-dasharray","14 8");
 dash(x(-1),Y0,x(-1),Y1);dash(x(1),Y0,x(1),Y1);dash(X0,y(1.3),X1,y(1.3));
 g.append("rect").attr("x",X0).attr("y",Y0).attr("width",X1-X0).attr("height",Y1-Y0).attr("fill","none").attr("stroke","#444").attr("stroke-width",4);
 const ax=svg.append("g").attr("transform",`translate(${X0},0)`).call(d3.axisLeft(y).tickValues([0,10,20]).tickSize(8).tickPadding(20).tickSizeOuter(0));
 const bx=svg.append("g").attr("transform",`translate(0,${Y1})`).call(d3.axisBottom(x).tickValues([-3,0,3,6]).tickSize(8).tickPadding(18).tickSizeOuter(0));
 [ax,bx].forEach(a=>{a.select("path").remove();a.selectAll("line").attr("stroke","#333").attr("stroke-width",4);a.selectAll("text").attr("font-size",59);});
 label(3091,1210,"log2(Fold Change)",67,{anchor:"middle"});
 label(2565,610,"\u2212log10(p\u2212value)",68,{anchor:"middle",rot:-90});
 legendNames.forEach((n,i)=>{const yy=[212,280,349][i];
  svg.append("circle").attr("cx",2745).attr("cy",yy).attr("r",14.5).attr("fill",legendColors[i]);
  label(2794,[230,297,365][i],n,59);});
 label(3217,230,"Control:EF",53); label(3217,297,"Case:LF",53);
})();

// ===== Panel D =====
(function(){
 const X0=219,X1=1509,Y0=1510,Y1=2831;
 const cols=[heatEF1,heatEF2,heatEF3,heatLF1,heatLF2,heatLF3];
 const x=d3.scaleBand().domain(samples).range([X0,X1]);
 const y=d3.scaleBand().domain(d3.range(heatEF1.length)).range([Y0,Y1]);
 const color=d3.scaleLinear().domain([-1.95,0,1.95]).range(["#5571b7","#ffffff","#eb5a5f"]);
 samples.forEach((s,c)=>{svg.append("g").selectAll("rect").data(cols[c]).join("rect").attr("x",x(s)).attr("width",x.bandwidth()+.5)
   .attr("y",(d,i)=>y(i)).attr("height",y.bandwidth()+.5).attr("fill",d=>color(d));});
 svg.append("rect").attr("x",X0).attr("y",1463).attr("width",x.bandwidth()*3).attr("height",36).attr("fill",groupColors[0]);
 svg.append("rect").attr("x",x("LF-1")).attr("y",1463).attr("width",x.bandwidth()*3).attr("height",36).attr("fill",groupColors[1]);
 const hy=d3.scaleLinear().domain([0,1]).range([1458,1329]);
 const dc=(n,s)=>{if(typeof n==="number")return{p:x(samples[n])+x.bandwidth()/2,h:0};
  const a=dc(n[1],s),b=dc(n[2],s);s.push([a,b,n[0]]);return{p:(a.p+b.p)/2,h:n[0]};};
 const cs=[];dc(colTree,cs);
 const tg=svg.append("g").attr("fill","none").attr("stroke","#000").attr("stroke-width",3.5);
 cs.forEach(([a,b,h])=>tg.append("path").attr("d",`M${a.p},${hy(a.h)}V${hy(h)}H${b.p}V${hy(b.h)}`));
 const hx=d3.scaleLinear().domain([0,1]).range([209,62]);
 const dr=(n,s)=>{if(typeof n==="number")return{p:y(n)+y.bandwidth(),h:.17};
  const a=dr(n[1],s),b=dr(n[2],s);s.push([a,b,n[0]]);return{p:(a.p+b.p)/2,h:n[0]};};
 const rs=[];dr(rowTree,rs);
 const rg=svg.append("g").attr("fill","none");
 rs.forEach(([a,b,h])=>rg.append("path").attr("d",`M${hx(a.h)},${a.p}H${hx(h)}V${b.p}H${hx(b.h)}`).attr("stroke",h>=.62&&h<1?"#888":"#111").attr("stroke-width",h>=.62&&h<1?1.5:2));
 rg.append("g").selectAll("path").data(leafHeights).join("path")
   .attr("d",(d,i)=>`M${hx(.1)},${y(i)+2}H${hx(d)}V${y(i)+9}H${hx(.1)}`).attr("stroke","#111").attr("stroke-width",2.2);
 svg.append("rect").attr("x",184).attr("y",1513).attr("width",25).attr("height",Y1-1513).attr("fill","#000");
 const nudge=[-1,1,1,-9,-5,9];
 samples.forEach((s,i)=>label(x(s)+x.bandwidth()/2+nudge[i],2915,s,64,{anchor:"middle"}));
 label(1555,1474,"Group",65);
 groupNames.forEach((n,i)=>{svg.append("rect").attr("x",1552).attr("y",[1513,1594][i]).attr("width",55).attr("height",54).attr("fill",groupColors[i]);
  label(1629,[1562,1642][i],n,63);});
 const cb=d3.scaleLinear().domain([-1.95,1.92]).range([2300,1735]);
 const defs=svg.append("defs").append("linearGradient").attr("id","cbg").attr("x1",0).attr("x2",0).attr("y1",1).attr("y2",0);
 [[-1.95,0],[0,.504],[1.92,1]].forEach(d=>defs.append("stop").attr("offset",d[1]).attr("stop-color",color(d[0])));
 svg.append("rect").attr("x",1552).attr("y",1735).attr("width",38).attr("height",565).attr("fill","url(#cbg)");
 heatTicks.forEach((t,i)=>label(1607,cb(t)+16,heatTickText[i],46));
})();

// ===== Panel E =====
(function(){
 const panels=[
  {name:"Clust1",mean:mean1,up:upper1,lo:lower1,extra:extra1,ticks:axisY1,text:axisY1Text,dom:[1.97,-1.855],py:[1520,1951],col:0,tb:1464,yc:1729},
  {name:"Clust2",mean:mean2,up:upper2,lo:lower2,extra:extra2,ticks:axisY2,text:axisY2Text,dom:[2,-1.74],py:[1522,1952],col:1,tb:1465,yc:1728},
  {name:"Clust3",mean:mean3,up:upper3,lo:lower3,extra:extra3,ticks:axisY3,text:axisY3Text,dom:[1.915,-1.59],py:[2332,2762],col:0,tb:2274,yc:2539},
  {name:"Clust4",mean:mean4,up:upper4,lo:lower4,extra:extra4,ticks:axisY4,text:axisY4Text,dom:[2,-2.06],py:[2332,2762],col:1,tb:2273,yc:2540}];
 const layout=[{fx:[1957,2644],tx:[1982,2618],lab:1847,title:2295,pad:12},{fx:[2841,3526],tx:[2866,3501],lab:2730,title:3184,pad:16}];
 panels.forEach(p=>{
  const L=layout[p.col];
  const x=d3.scaleLinear().domain([0,5]).range(L.tx);
  const y=d3.scaleLinear().domain(p.dom).range(p.py);
  const g=svg.append("g");
  const line=d3.line().x(d=>x(d[0])).y(d=>y(d[1]));
  g.append("path").attr("d",line(p.up.concat(p.lo.slice().reverse()))+"Z").attr("fill","#d3d3d3").attr("stroke","#d3d3d3").attr("stroke-width",2).attr("stroke-linejoin","round");
  p.extra.forEach(l=>g.append("path").attr("d",line(l.map((v,i)=>[i,v]))).attr("fill","none").attr("stroke","#d3d3d3").attr("stroke-width",3));
  g.append("path").attr("d",line(p.mean.map((v,i)=>[i+.02,v]))).attr("fill","none").attr("stroke","#1e4aa0").attr("stroke-width",4.4);
  g.selectAll("circle").data(p.mean).join("circle").attr("cx",(d,i)=>x(i+.02)).attr("cy",d=>y(d)).attr("r",10.5).attr("fill","none").attr("stroke","#1e4aa0").attr("stroke-width",4.4);
  g.append("rect").attr("x",L.fx[0]).attr("y",p.py[0]).attr("width",L.fx[1]-L.fx[0]).attr("height",p.py[1]-p.py[0]).attr("fill","none").attr("stroke","#000").attr("stroke-width",4.5);
  const ay=svg.append("g").attr("transform",`translate(${L.fx[0]},0)`).call(d3.axisLeft(y).tickValues(p.ticks).tickSize(12).tickPadding(L.pad).tickSizeOuter(0).tickFormat(v=>p.text[String(v)]||""));
  ay.select("path").remove();ay.selectAll("line").attr("stroke","#111").attr("stroke-width",3.5);
  ay.selectAll("text").attr("font-size",45).attr("fill","#222");
  const ax=svg.append("g").attr("transform",`translate(0,${p.py[1]})`).call(d3.axisBottom(x).tickValues(d3.range(6)).tickSize(17).tickSizeOuter(0).tickFormat(i=>samples[i]));
  ax.select("path").remove();ax.selectAll("line").attr("stroke","#111").attr("stroke-width",3.5);
  ax.selectAll("text").attr("font-size",50).attr("fill","#111").attr("y",0).attr("dy",0).attr("text-anchor","end")
    .attr("transform","translate(20,50) rotate(-90)");
  label(L.title,p.tb,p.name,75,{anchor:"middle"});
  label(L.lab,p.yc,"Centered log2(fpkm+1)",52,{anchor:"middle",rot:-90});
 });
})();
</script></body></html>
